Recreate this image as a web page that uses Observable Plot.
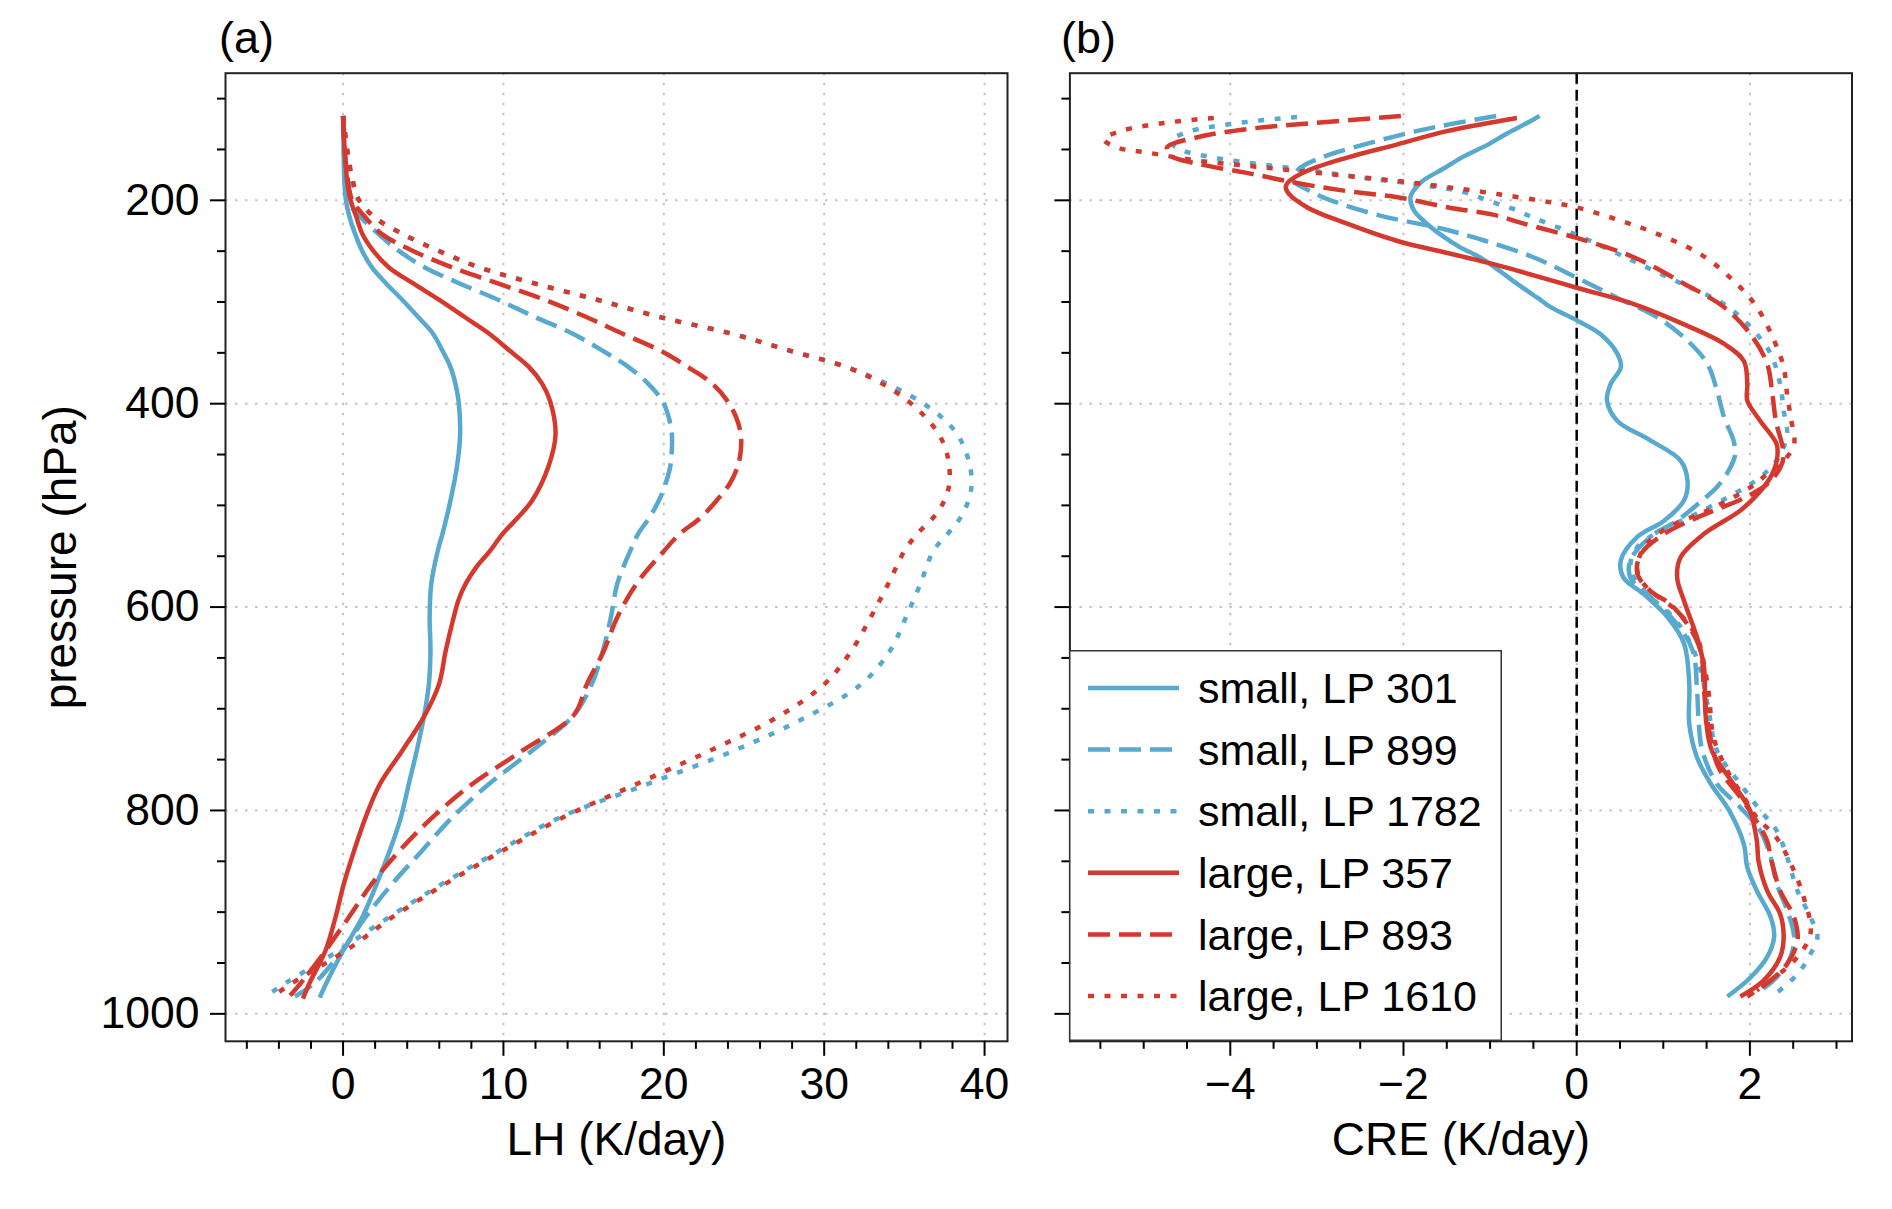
<!DOCTYPE html>
<html><head><meta charset="utf-8">
<script src="https://cdn.jsdelivr.net/npm/d3@7"></script>
<script src="https://cdn.jsdelivr.net/npm/@observablehq/plot@0.6"></script>
<style>
body{margin:0;background:#fff;}
#wrap{position:relative;width:1892px;height:1209px;font-family:"Liberation Sans",Arial,Helvetica,sans-serif;overflow:hidden;}
.pl{position:absolute;top:0;}
.tag{position:absolute;font-size:45px;line-height:45px;color:#000;}
</style></head>
<body><div id="wrap"></div>
<script>
// ---------- data: [pressure (hPa), value] ----------
// Panel (a): latent heating LH (K/day)
const lh_small301 = [[117,0],[150,0.03],[180,0.08],[200,0.18],[215,0.38],[233,0.75],[250,1.2],[266,1.8],[282,2.7],[298,3.7],[315,4.7],[331,5.6],[348,6.2],[364,6.7],[380,7.0],[397,7.2],[430,7.3],[462,7.1],[495,6.7],[528,6.2],[545,5.9],[577,5.5],[610,5.4],[643,5.45],[676,5.35],[708,5.04],[741,4.6],[774,4.1],[807,3.6],[840,2.9],[872,2.1],[905,1.2],[938,0.0],[970,-1.05],[984,-1.45]];
const lh_small899 = [[117,0],[150,0.08],[180,0.18],[200,0.3],[215,1.0],[233,2.2],[250,3.5],[266,5.1],[282,7.3],[298,9.7],[315,12.0],[331,14.3],[348,16.2],[364,17.8],[380,19.0],[397,19.9],[413,20.3],[430,20.5],[446,20.5],[462,20.4],[479,20.1],[495,19.7],[512,19.1],[528,18.4],[545,17.9],[577,17.1],[610,16.7],[643,16.2],[676,15.5],[706,14.4],[741,11.8],[774,9.1],[807,6.8],[840,4.9],[872,3.07],[905,1.4],[938,-0.05],[970,-1.8],[983,-3.0]];
const lh_small1782 = [[117,0],[150,0.26],[180,0.55],[200,1.0],[217,2.0],[233,3.7],[250,6.0],[266,8.5],[282,12.0],[298,15.9],[315,19.8],[331,24.2],[348,27.9],[364,31.4],[381,34.0],[397,35.9],[413,37.3],[430,38.3],[446,38.8],[462,39.1],[479,39.2],[495,39.0],[512,38.5],[528,37.7],[545,36.8],[577,36.0],[610,35.1],[643,34.1],[676,32.3],[708,28.9],[741,24.4],[774,19.0],[807,13.5],[840,9.7],[872,6.2],[905,2.86],[938,-0.3],[970,-3.6],[983,-4.85]];
const lh_large357 = [[117,0],[150,0.1],[180,0.25],[200,0.47],[215,0.8],[233,1.2],[250,1.9],[266,2.86],[282,4.4],[298,6.0],[315,7.6],[331,9.1],[348,10.4],[364,11.6],[380,12.4],[397,12.9],[430,13.25],[462,12.8],[495,11.8],[512,10.9],[528,9.95],[545,9.15],[561,8.3],[577,7.65],[593,7.2],[610,6.9],[643,6.4],[676,5.98],[708,5.04],[741,3.7],[774,2.3],[807,1.4],[840,0.68],[872,0.05],[905,-0.47],[938,-1.1],[970,-2.1],[985,-2.5]];
const lh_large893 = [[117,0],[150,0.1],[180,0.3],[200,0.57],[215,1.3],[233,2.4],[250,4.4],[266,6.8],[282,9.7],[298,12.6],[315,15.2],[331,17.4],[348,19.8],[364,21.5],[380,23.0],[397,23.95],[413,24.5],[430,24.8],[446,24.8],[462,24.6],[479,24.1],[495,23.3],[512,22.3],[528,21.0],[545,20.0],[577,18.3],[610,17.1],[643,16.26],[676,15.2],[706,14.4],[741,11.2],[774,8.06],[807,5.56],[840,3.5],[872,1.8],[905,0.36],[938,-1.1],[970,-2.65],[982,-3.3]];
const lh_large1610 = [[117,0],[150,0.26],[180,0.6],[200,1.0],[217,2.0],[233,3.7],[250,6.0],[266,8.5],[282,12.0],[298,15.9],[315,19.8],[331,24.2],[348,27.9],[364,31.4],[381,33.7],[397,35.2],[413,36.3],[430,37.15],[446,37.6],[462,37.8],[479,37.8],[495,37.5],[512,36.8],[528,35.8],[545,35.0],[577,34.0],[610,32.9],[643,31.7],[676,30.0],[708,27.1],[741,22.9],[774,18.3],[807,13.7],[840,9.9],[872,6.4],[905,3.07],[938,0.16],[970,-3.2],[982,-4.3]];

// Panel (b): cloud radiative effect CRE (K/day)
const cre_small301 = [[117,-0.43],[122,-0.53],[135,-0.82],[145,-1.02],[158,-1.33],[168,-1.52],[181,-1.78],[190,-1.88],[197,-1.92],[210,-1.88],[223,-1.73],[235,-1.55],[246,-1.35],[256,-1.12],[270,-0.88],[282,-0.69],[296,-0.45],[305,-0.30],[318,0.0],[332,0.28],[351,0.47],[364,0.51],[381,0.39],[397,0.35],[417,0.47],[436,0.85],[456,1.20],[476,1.28],[495,1.24],[515,1.01],[531,0.70],[554,0.51],[571,0.54],[587,0.77],[610,1.05],[636,1.24],[676,1.30],[715,1.30],[748,1.39],[774,1.55],[800,1.76],[833,1.93],[856,1.97],[879,2.08],[905,2.24],[924,2.28],[944,2.20],[964,2.01],[983,1.74]];
const cre_small899 = [[117,-0.93],[125,-1.45],[132,-1.85],[145,-2.45],[158,-2.95],[170,-3.22],[180,-3.28],[190,-3.1],[200,-2.84],[215,-2.27],[228,-1.55],[240,-1.05],[256,-0.50],[276,0.0],[296,0.47],[315,0.93],[338,1.28],[361,1.51],[387,1.62],[413,1.70],[436,1.81],[450,1.83],[465,1.76],[482,1.62],[495,1.45],[515,1.16],[531,0.85],[554,0.62],[571,0.62],[590,0.85],[617,1.16],[643,1.34],[682,1.39],[715,1.41],[741,1.45],[774,1.62],[797,1.89],[820,2.12],[846,2.24],[872,2.31],[898,2.43],[924,2.51],[944,2.47],[964,2.31],[980,2.08]];
const cre_small1782 = [[118,-3.23],[125,-4.0],[133,-4.5],[142,-4.69],[150,-4.58],[158,-4.19],[165,-3.61],[171,-3.04],[178,-2.46],[184,-1.88],[192,-1.30],[201,-1.0],[208,-0.75],[216,-0.53],[237,0.08],[260,0.66],[283,1.24],[302,1.70],[325,2.01],[351,2.24],[381,2.35],[407,2.39],[430,2.43],[450,2.35],[463,2.24],[479,2.01],[489,1.81],[508,1.39],[525,0.97],[541,0.70],[561,0.62],[584,0.77],[607,1.08],[630,1.28],[659,1.42],[700,1.52],[741,1.62],[774,1.89],[800,2.12],[820,2.31],[846,2.43],[879,2.55],[905,2.70],[924,2.78],[941,2.70],[961,2.55],[984,2.24]];
const cre_large357 = [[119,-0.69],[132,-1.50],[145,-2.07],[158,-2.65],[171,-3.11],[182,-3.33],[187,-3.36],[193,-3.33],[207,-3.11],[223,-2.65],[240,-2.07],[252,-1.48],[263,-0.95],[270,-0.65],[286,0.0],[302,0.66],[322,1.24],[341,1.70],[358,1.93],[381,1.97],[397,1.97],[417,2.12],[440,2.31],[456,2.31],[472,2.24],[486,2.12],[505,1.89],[528,1.47],[551,1.20],[571,1.16],[594,1.24],[630,1.39],[659,1.47],[708,1.49],[741,1.56],[774,1.81],[800,2.0],[830,2.08],[850,2.1],[879,2.20],[902,2.35],[924,2.39],[944,2.35],[967,2.16],[983,1.89]];
const cre_large893 = [[117,-2.03],[124,-3.03],[130,-3.81],[138,-4.38],[148,-4.73],[156,-4.69],[164,-4.38],[173,-3.81],[183,-3.23],[191,-2.65],[197,-2.07],[207,-1.48],[215,-0.92],[222,-0.65],[237,0.0],[256,0.66],[282,1.24],[305,1.70],[332,2.01],[361,2.20],[391,2.26],[417,2.30],[450,2.39],[463,2.35],[479,2.20],[492,1.95],[512,1.39],[528,1.01],[548,0.74],[567,0.70],[584,0.85],[597,1.08],[617,1.28],[643,1.43],[682,1.47],[722,1.53],[758,1.64],[787,1.89],[807,2.05],[830,2.20],[846,2.24],[879,2.35],[905,2.51],[928,2.55],[951,2.43],[967,2.24],[983,1.97]];
const cre_large1610 = [[119,-4.19],[124,-4.77],[132,-5.27],[140,-5.46],[148,-5.31],[153,-4.96],[161,-4.38],[166,-3.81],[171,-3.23],[176,-2.65],[181,-2.07],[187,-1.50],[194,-0.90],[202,-0.30],[207,0.0],[219,0.47],[233,0.93],[253,1.43],[279,1.81],[305,2.08],[338,2.28],[364,2.39],[391,2.43],[413,2.47],[440,2.51],[456,2.39],[469,2.20],[482,2.01],[505,1.51],[522,1.05],[541,0.78],[564,0.70],[581,0.81],[604,1.16],[630,1.39],[656,1.47],[689,1.53],[728,1.58],[761,1.74],[787,1.93],[807,2.08],[826,2.30],[852,2.47],[885,2.62],[921,2.70],[944,2.55],[960,2.35],[977,2.08]];

// tick values
const yMajor = [200, 400, 600, 800, 1000];
const yMinor = [100, 150, 250, 300, 350, 450, 500, 550, 650, 700, 750, 850, 900, 950];
const lhMajor = [0, 10, 20, 30, 40];
const lhMinor = [-6, -4, -2, 2, 4, 6, 8, 12, 14, 16, 18, 22, 24, 26, 28, 32, 34, 36, 38];
const creMajor = [-4, -2, 0, 2];
const creMinor = [-5.5, -5, -4.5, -3.5, -3, -2.5, -1.5, -1, -0.5, 0.5, 1, 1.5, 2.5, 3];
const seriesLabels = ["small, LP 301", "small, LP 899", "small, LP 1782", "large, LP 357", "large, LP 893", "large, LP 1610"];

// ---------- styling ----------
const BLUE = "#58a9cf", RED = "#d5392e";
const DASH = "22,9", DOT = "6,10.5";
const FONT = '"Liberation Sans", Arial, Helvetica, sans-serif';
const series = [
  {label: seriesLabels[0], color: BLUE, dash: null, lh: lh_small301, cre: cre_small301},
  {label: seriesLabels[1], color: BLUE, dash: DASH, lh: lh_small899, cre: cre_small899},
  {label: seriesLabels[2], color: BLUE, dash: DOT, lh: lh_small1782, cre: cre_small1782},
  {label: seriesLabels[3], color: RED, dash: null, lh: lh_large357, cre: cre_large357},
  {label: seriesLabels[4], color: RED, dash: DASH, lh: lh_large893, cre: cre_large893},
  {label: seriesLabels[5], color: RED, dash: DOT, lh: lh_large1610, cre: cre_large1610}
];
const fmtNum = d => (d < 0 ? "\u2212" + Math.abs(d) : String(d));
const gridStyle = {stroke: "#c4c4c4", strokeOpacity: 1, strokeWidth: 2, strokeDasharray: "2.5,7.5"};
const TICKFS = 44.5, LABELFS = 46;

function panel({key, width, marginLeft, marginRight, xDomain, xMajor, xMinor, xLabel, yLabels, zero}) {
  const marks = [
    Plot.gridX(xMajor, gridStyle),
    Plot.gridY(yMajor, gridStyle)
  ];
  if (zero) marks.push(Plot.ruleX([0], {stroke: "#000", strokeWidth: 2.5, strokeDasharray: "11,6"}));
  for (const s of series) {
    marks.push(Plot.line(s[key], {
      x: d => d[1], y: d => d[0], stroke: s.color, strokeWidth: 4.5,
      strokeDasharray: s.dash, strokeLinecap: "butt", strokeLinejoin: "round", curve: "catmull-rom"
    }));
  }
  marks.push(
    Plot.frame({stroke: "#222", strokeWidth: 2}),
    Plot.axisX(xMajor, {tickSize: 15, tickPadding: 11, strokeWidth: 2, tickFormat: fmtNum, label: null, fontSize: TICKFS}),
    Plot.axisX(xMinor, {tickSize: 8, strokeWidth: 2, tickFormat: () => "", label: null}),
    Plot.axisY(yMajor, {tickSize: 15, tickPadding: 11, strokeWidth: 2, tickFormat: yLabels ? (d => String(d)) : (() => ""), label: null, fontSize: TICKFS}),
    Plot.axisY(yMinor, {tickSize: 8, strokeWidth: 2, tickFormat: () => "", label: null}),
    Plot.text([xLabel], {text: d => d, frameAnchor: "bottom", textAnchor: "middle", lineAnchor: "middle", dy: 99, fontSize: LABELFS, fill: "#000"})
  );
  if (yLabels) marks.push(Plot.text(["pressure (hPa)"], {text: d => d, frameAnchor: "left", textAnchor: "middle", lineAnchor: "middle", rotate: -90, dx: -164, fontSize: LABELFS, fill: "#000"}));
  return Plot.plot({
    width, height: 1209,
    marginLeft, marginRight, marginTop: 72.7, marginBottom: 168.2,
    style: {fontFamily: FONT, fontSize: TICKFS + "px", color: "#000", background: "transparent", overflow: "visible"},
    x: {domain: xDomain},
    y: {domain: [75, 1027], reverse: true},
    marks
  });
}

const wrap = document.getElementById("wrap");

const pa = panel({key: "lh", width: 1040, marginLeft: 225, marginRight: 33, xDomain: [-7.33, 41.43],
  xMajor: lhMajor, xMinor: lhMinor, xLabel: "LH (K/day)", yLabels: true, zero: false});
pa.classList.add("pl"); pa.style.left = "0px";
wrap.appendChild(pa);

const pb = panel({key: "cre", width: 852, marginLeft: 29.4, marginRight: 40.5, xDomain: [-5.852, 3.179],
  xMajor: creMajor, xMinor: creMinor, xLabel: "CRE (K/day)", yLabels: false, zero: true});
pb.classList.add("pl"); pb.style.left = "1040px";
wrap.appendChild(pb);

// panel tags
for (const [t, left] of [["(a)", 219], ["(b)", 1061]]) {
  const d = document.createElement("div");
  d.className = "tag"; d.textContent = t;
  d.style.left = left + "px"; d.style.top = "15px";
  wrap.appendChild(d);
}

// legend
const LW = 433, LH = 391;
const leg = d3.select(wrap).append("svg")
  .attr("width", LW).attr("height", LH)
  .style("position", "absolute").style("left", "1069px").style("top", "650px")
  .style("font-family", FONT);
leg.append("rect").attr("x", 0.75).attr("y", 0.75).attr("width", LW - 1.5).attr("height", LH - 1.5)
  .attr("fill", "#fff").attr("stroke", "#333").attr("stroke-width", 1.5);
series.forEach((s, i) => {
  const cy = 38 + i * 61.6;
  leg.append("line").attr("x1", 19).attr("x2", 110).attr("y1", cy).attr("y2", cy)
    .attr("stroke", s.color).attr("stroke-width", 4.5)
    .attr("stroke-dasharray", s.dash).attr("stroke-linecap", "butt");
  leg.append("text").attr("x", 129).attr("y", cy).attr("dy", "0.355em")
    .attr("font-size", 43).attr("fill", "#000").text(s.label);
});
</script></body></html>
